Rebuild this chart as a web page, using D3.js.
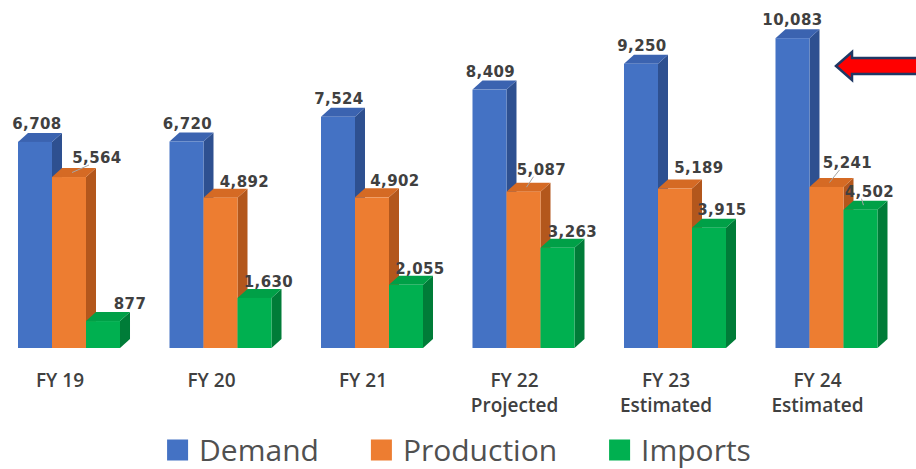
<!DOCTYPE html>
<html>
<head>
<meta charset="utf-8">
<script src="https://cdn.jsdelivr.net/npm/d3@7"></script>
<style>
  html, body { margin: 0; padding: 0; background: #ffffff; }
  svg { display: block; }
</style>
</head>
<body>
<svg id="chart" width="916" height="469"></svg>
<script>
// Fiscal-year categories and their second-line qualifiers
const categories = ["FY 19", "FY 20", "FY 21", "FY 22", "FY 23", "FY 24"];
const qualifiers = ["", "", "", "Projected", "Estimated", "Estimated"];

// Series values per fiscal year
const demand     = [6708, 6720, 7524, 8409, 9250, 10083];
const production = [5564, 4892, 4902, 5087, 5189, 5241];
const imports    = [877, 1630, 2055, 3263, 3915, 4502];

const seriesNames = ["Demand", "Production", "Imports"];
const seriesValues = [demand, production, imports];

// Face colours for each series: front, top, side
const palette = {
  Demand:     { front: "#4472C4", top: "#3B63B0", side: "#2E5090" },
  Production: { front: "#ED7D31", top: "#D56A24", side: "#B3571C" },
  Imports:    { front: "#00B050", top: "#00A047", side: "#007C38" }
};

// Value-label placement per series: horizontal shift and gap above the bar top
const labelShift = {
  Demand:     { dx: [-3, -4, -4, -4, -4, -5], gap: [4, 4, 4, 4, 4, 4] },
  Production: { dx: [23, 19, 18, 13, 19, 16], gap: [5, 2, 2, 8, 7, 10] },
  Imports:    { dx: [22, 9, 9, 10, 8, 4],     gap: [3, 2, 2, 2, 4, 4] }
};
// Labels that carry a leader line back to their bar
const leaderLabels = [["Production", 0], ["Production", 3], ["Production", 5], ["Imports", 5]];

const svg = d3.select("#chart");
const DX = 10, DY = 9;           // oblique depth of the 3-D bars

const x = d3.scaleBand()
  .domain(categories)
  .range([18, 877.5])
  .paddingInner(0.3267)
  .paddingOuter(0);

const xs = d3.scaleBand()
  .domain(seriesNames)
  .range([0, x.bandwidth()])
  .padding(0);

const y = d3.scaleLinear().domain([0, 11000]).range([348, 10]);

// Flat list of bars in drawing order (group by group, left to right)
const bars = [];
categories.forEach((cat, i) => {
  seriesNames.forEach((s, k) => {
    bars.push({ cat, i, series: s, value: seriesValues[k][i] });
  });
});

const gBars = svg.append("g").attr("class", "bars");
const pt = (a) => a.map(p => p.join(",")).join(" ");

gBars.selectAll("g.bar")
  .data(bars)
  .join("g")
  .attr("class", "bar")
  .each(function (d) {
    const g = d3.select(this);
    const x0 = x(d.cat) + xs(d.series);
    const w = xs.bandwidth();
    const yt = y(d.value), yb = y(0);
    const c = palette[d.series];
    g.append("polygon")
      .attr("points", pt([[x0 + w, yt], [x0 + w + DX, yt - DY], [x0 + w + DX, yb - DY], [x0 + w, yb]]))
      .attr("fill", c.side);
    g.append("polygon")
      .attr("points", pt([[x0, yt], [x0 + DX, yt - DY], [x0 + w + DX, yt - DY], [x0 + w, yt]]))
      .attr("fill", c.top);
    g.append("rect")
      .attr("x", x0).attr("y", yt)
      .attr("width", w).attr("height", yb - yt)
      .attr("fill", c.front);
  });

// Leader lines
const gLeaders = svg.append("g").attr("class", "leaders");
leaderLabels.forEach(([s, i]) => {
  const v = seriesValues[seriesNames.indexOf(s)][i];
  const x0 = x(categories[i]) + xs(s);
  const w = xs.bandwidth();
  const cx = x0 + w / 2 + DX / 2 + labelShift[s].dx[i];
  const yBack = y(v) - DY;
  gLeaders.append("line")
    .attr("x1", x0 + w / 2 + DX / 2 - 2)
    .attr("y1", y(v) - DY / 2)
    .attr("x2", cx - 8)
    .attr("y2", yBack - labelShift[s].gap[i] + 2)
    .attr("stroke", "#a6a6a6")
    .attr("stroke-width", 1);
});

// Value labels
const fmt = d3.format(",");
svg.append("g").attr("class", "values")
  .selectAll("text")
  .data(bars)
  .join("text")
  .attr("x", d => x(d.cat) + xs(d.series) + xs.bandwidth() / 2 + DX / 2 + labelShift[d.series].dx[d.i])
  .attr("y", d => y(d.value) - DY - labelShift[d.series].gap[d.i])
  .attr("text-anchor", "middle")
  .attr("font-family", "'DejaVu Sans', Verdana, sans-serif")
  .attr("font-weight", "bold")
  .attr("font-size", 15)
  .attr("letter-spacing", 0.4)
  .attr("fill", "#404040")
  .text(d => fmt(d.value));

// Category labels
const gCat = svg.append("g").attr("class", "categories")
  .attr("font-family", "'Open Sans', sans-serif")
  .attr("font-weight", 600)
  .attr("font-size", 19)
  .attr("fill", "#404040")
  .attr("text-anchor", "middle");

categories.forEach((cat, i) => {
  const cx = x(cat) + x.bandwidth() / 2 - 9;
  gCat.append("text").attr("x", cx).attr("y", 387).text(cat);
  if (qualifiers[i]) {
    gCat.append("text").attr("x", cx).attr("y", 412).text(qualifiers[i]);
  }
});

// Legend, centred under the plot
const gLeg = svg.append("g").attr("class", "legend");
const sq = 21, gapText = 11, gapItem = 52;
let cursor = 0;
seriesNames.forEach(s => {
  const g = gLeg.append("g");
  g.append("rect")
    .attr("x", 0).attr("y", -sq / 2)
    .attr("width", sq).attr("height", sq)
    .attr("fill", palette[s].front);
  const t = g.append("text")
    .attr("x", sq + gapText).attr("y", 0)
    .attr("dy", "0.36em")
    .attr("font-family", "'Open Sans', sans-serif")
    .attr("font-size", 30)
    .attr("fill", "#505050")
    .text(s);
  const wdt = sq + gapText + t.node().getComputedTextLength();
  g.attr("transform", `translate(${cursor},0)`);
  cursor += wdt + gapItem;
});
const legendWidth = cursor - gapItem;
gLeg.attr("transform", `translate(${459 - legendWidth / 2},450)`);

// Callout arrow pointing at the latest demand bar
svg.append("path")
  .attr("d", "M836,66 L852,52 L852,58 L920,58 L920,74 L852,74 L852,80 Z")
  .attr("fill", "#FF0000")
  .attr("stroke", "#1F3864")
  .attr("stroke-width", 2.5)
  .attr("stroke-linejoin", "miter");
</script>
</body>
</html>
